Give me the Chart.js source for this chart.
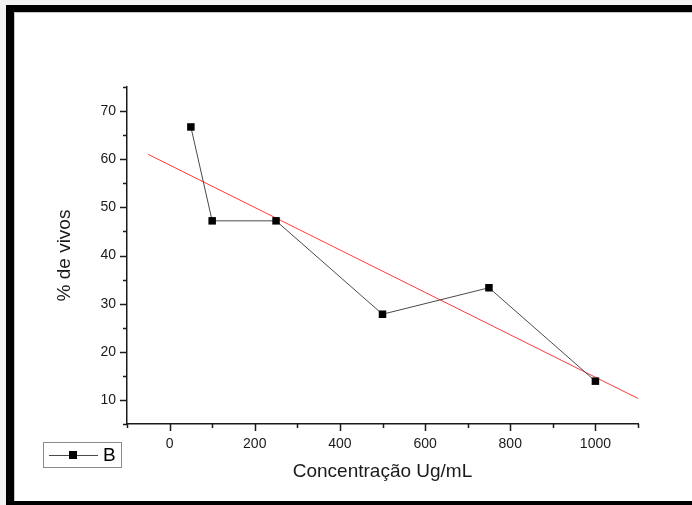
<!DOCTYPE html>
<html>
<head>
<meta charset="utf-8">
<script src="https://cdn.jsdelivr.net/npm/chart.js@4/dist/chart.umd.min.js"></script>
<style>
  html, body { margin: 0; padding: 0; background: #f3f3f3; }
  canvas { display: block; }
</style>
</head>
<body>
<canvas id="c" width="692" height="505"></canvas>
<script>
// concentracao (ug/mL) vs % de vivos
const concentracao = [50, 100, 250, 500, 750, 1000]
const vivos = [66.7, 47.2, 47.2, 27.8, 33.3, 13.9]
// linha de ajuste (vermelha), pontas
const ajusteX = [-50, 1100]
const ajusteY = [61.0, 10.3]
const xMajor = [0, 200, 400, 600, 800, 1000]
const yMajor = [10, 20, 30, 40, 50, 60, 70]

const fonte = 'Liberation Sans, Arial, sans-serif'

const framePlugin = {
    id: 'frame',
    beforeDraw: (chart) => {
        const ctx = chart.ctx
        ctx.save()
        ctx.fillStyle = '#f3f3f3'
        ctx.fillRect(0, 0, 692, 505)
        ctx.fillStyle = '#ffffff'
        ctx.fillRect(6, 5, 686, 500)
        ctx.fillStyle = '#000000'
        ctx.fillRect(6, 5, 686, 7)
        ctx.fillRect(6, 5, 8, 500)
        ctx.fillRect(6, 501, 686, 4)
        ctx.fillStyle = '#c8c8c8'
        ctx.fillRect(14, 12, 678, 1)
        ctx.fillRect(14, 12, 1, 489)
        ctx.restore()
    },
    afterDraw: (chart) => {
        // ticks para fora, maiores e menores
        const ctx = chart.ctx
        const x = chart.scales.x
        const y = chart.scales.y
        ctx.save()
        ctx.strokeStyle = '#1a1a1a'
        ctx.lineWidth = 1.5
        ctx.beginPath()
        for (let v = -100; v <= 1100; v += 100) {
            const px = Math.round(x.getPixelForValue(v)) + 0.5
            const len = xMajor.includes(v) ? 7 : 4
            ctx.moveTo(px, y.bottom)
            ctx.lineTo(px, y.bottom + len)
        }
        for (let v = 5; v <= 75; v += 5) {
            const py = Math.round(y.getPixelForValue(v)) + 0.5
            const len = yMajor.includes(v) ? 7 : 4
            ctx.moveTo(x.left, py)
            ctx.lineTo(x.left - len, py)
        }
        ctx.stroke()

        // legenda
        const ds = chart.data.datasets[0]
        ctx.lineWidth = 1
        ctx.strokeStyle = '#8a8a8a'
        ctx.strokeRect(43.5, 442.5, 78, 25)
        ctx.strokeStyle = ds.borderColor
        ctx.beginPath()
        ctx.moveTo(49, 455.5)
        ctx.lineTo(98, 455.5)
        ctx.stroke()
        ctx.fillStyle = '#000'
        ctx.fillRect(69, 451, 8, 8)
        ctx.font = '19px ' + fonte
        ctx.textBaseline = 'middle'
        ctx.fillText('B', 103, 456)
        ctx.restore()
    }
}

new Chart(document.getElementById('c').getContext('2d'), {
    type: 'scatter',
    data: {
        datasets: [{
            label: 'B',
            data: concentracao.map((c, i) => ({x: c, y: vivos[i]})),
            showLine: true,
            borderColor: '#4a4a4a',
            borderWidth: 1,
            pointStyle: 'rect',
            pointRadius: 5.3,
            pointBackgroundColor: '#000',
            pointBorderColor: '#000',
            pointBorderWidth: 0
        }, {
            label: 'ajuste',
            data: ajusteX.map((c, i) => ({x: c, y: ajusteY[i]})),
            showLine: true,
            borderColor: '#ff3b3b',
            borderWidth: 1,
            pointRadius: 0
        }]
    },
    options: {
        responsive: false,
        animation: false,
        events: [],
        layout: { padding: { left: 0, top: 87, right: 54, bottom: 0 } },
        plugins: { legend: { display: false }, tooltip: { enabled: false } },
        scales: {
            x: {
                type: 'linear',
                min: -100,
                max: 1100,
                afterFit: (s) => { s.height = 81 },
                afterBuildTicks: (s) => { s.ticks = xMajor.map(v => ({value: v})) },
                grid: { display: false, drawTicks: false },
                border: { display: true, color: '#1a1a1a', width: 1.5 },
                ticks: { color: '#1a1a1a', padding: 12, font: { family: fonte, size: 14 }, callback: (v) => String(v) },
                title: {
                    display: true,
                    text: 'Concentração Ug/mL',
                    color: '#1a1a1a',
                    font: { family: fonte, size: 19 },
                    padding: { top: 0, bottom: 22 }
                }
            },
            y: {
                type: 'linear',
                min: 5,
                max: 75,
                afterFit: (s) => { s.width = 127 },
                afterBuildTicks: (s) => { s.ticks = yMajor.map(v => ({value: v})) },
                grid: { display: false, drawTicks: false },
                border: { display: true, color: '#1a1a1a', width: 1.5 },
                ticks: { color: '#1a1a1a', padding: 11, font: { family: fonte, size: 14 }, callback: (v) => String(v) },
                title: {
                    display: true,
                    text: '% de vivos',
                    color: '#1a1a1a',
                    font: { family: fonte, size: 19 },
                    padding: { top: 53, bottom: 0 }
                }
            }
        }
    },
    plugins: [framePlugin]
})
</script>
</body>
</html>
